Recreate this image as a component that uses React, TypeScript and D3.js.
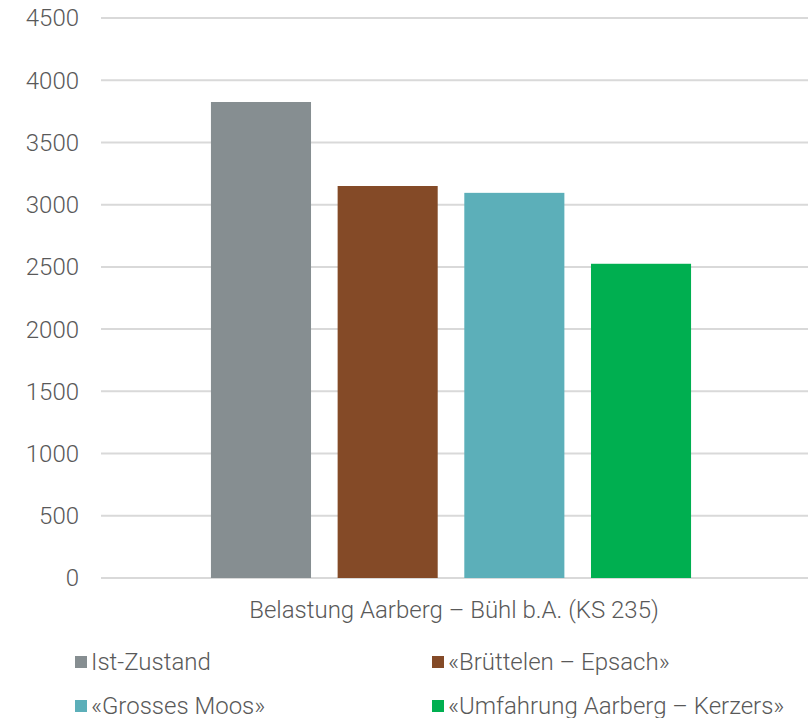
import React from "react";
import * as d3 from "d3";

const categories = ["Belastung Aarberg – Bühl b.A. (KS 235)"];
const seriesNames = [
  "Ist-Zustand",
  "«Brüttelen – Epsach»",
  "«Grosses Moos»",
  "«Umfahrung Aarberg – Kerzers»",
];
const seriesValues = [3825, 3150, 3095, 2525];
const seriesColors = ["#868E91", "#844A27", "#5CAFB9", "#00AF50"];
const yTicks = [0, 500, 1000, 1500, 2000, 2500, 3000, 3500, 4000, 4500];

const W = 808;
const H = 718;
const plot = { left: 101, right: 801, top: 18, bottom: 578 };
const FONT = "Roboto, 'Liberation Sans', sans-serif";
const TEXT = "#595959";
const FS = 24;

export default function App() {
  const y = d3.scaleLinear().domain([0, 4500]).range([plot.bottom, plot.top]);
  const x0 = d3
    .scaleBand<string>()
    .domain(categories)
    .range([plot.left, plot.right])
    .paddingInner(0)
    .paddingOuter(0.229);
  const x1 = d3
    .scaleBand<string>()
    .domain(seriesNames)
    .range([0, x0.bandwidth()])
    .paddingInner(0.21)
    .paddingOuter(0);

  const legendPos = [
    { x: 75, y: 662 },
    { x: 432, y: 662 },
    { x: 75, y: 706 },
    { x: 432, y: 706 },
  ];

  return (
    <svg
      width={W}
      height={H}
      style={{ position: "absolute", left: 0, top: 0, background: "#fff" }}
      fontFamily={FONT}
    >
      {yTicks.map((t) => (
        <g key={t}>
          <line
            x1={plot.left}
            x2={plot.right + 7}
            y1={y(t)}
            y2={y(t)}
            stroke="#D9D9D9"
            strokeWidth={2}
          />
          <text
            x={79}
            y={y(t)}
            dy="0.35em"
            textAnchor="end"
            fontSize={FS}
            fontWeight={300}
            fill={TEXT}
          >
            {t}
          </text>
        </g>
      ))}
      {categories.map((c) => (
        <g key={c} transform={`translate(${x0(c)},0)`}>
          {seriesNames.map((s, i) => (
            <rect
              key={s}
              x={x1(s)}
              y={y(seriesValues[i])}
              width={x1.bandwidth()}
              height={y(0) - y(seriesValues[i])}
              fill={seriesColors[i]}
            />
          ))}
          <text
            x={x0.bandwidth() / 2 + 3}
            y={610}
            dy="0.35em"
            textAnchor="middle"
            fontSize={FS}
            fontWeight={300}
            fill={TEXT}
          >
            {c}
          </text>
        </g>
      ))}
      {seriesNames.map((s, i) => (
        <g key={s} transform={`translate(${legendPos[i].x},${legendPos[i].y})`}>
          <rect x={0} y={-6} width={12} height={12} fill={seriesColors[i]} />
          <text x={16} y={0} dy="0.35em" fontSize={FS} fontWeight={300} fill={TEXT}>
            {s}
          </text>
        </g>
      ))}
    </svg>
  );
}
